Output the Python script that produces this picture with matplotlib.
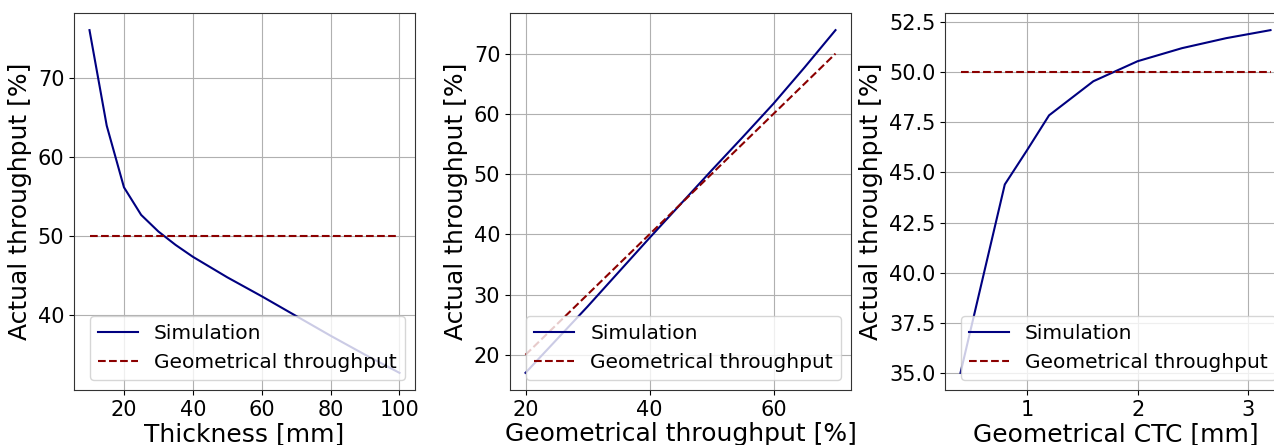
import matplotlib
matplotlib.use("Agg")
import matplotlib.pyplot as plt

# Panel 1: thickness scan
thickness_mm = [10, 15, 20, 25, 30, 35, 40, 50, 60, 70, 80, 90, 100]
thickness_sim = [76.1, 64.0, 56.2, 52.7, 50.6, 48.9, 47.4, 44.8, 42.4, 39.9, 37.4, 35.0, 32.7]
thickness_geo = [50.0] * len(thickness_mm)

# Panel 2: geometrical throughput scan
geo_tp = [20, 25, 30, 35, 40, 45, 50, 55, 60, 65, 70]
geo_tp_sim = [17.0, 22.5, 28.0, 33.7, 39.4, 45.0, 50.6, 56.1, 61.7, 67.7, 73.9]
geo_tp_geo = [20, 25, 30, 35, 40, 45, 50, 55, 60, 65, 70]

# Panel 3: CTC scan
ctc_mm = [0.4, 0.8, 1.0, 1.2, 1.6, 2.0, 2.4, 2.8, 3.2]
ctc_sim = [35.0, 44.4, 46.1, 47.85, 49.55, 50.55, 51.2, 51.7, 52.1]
ctc_geo = [50.0] * len(ctc_mm)

xlabels = ["Thickness [mm]", "Geometrical throughput [%]", "Geometrical CTC [mm]"]
ylabel = "Actual throughput [%]"
legend_labels = ["Simulation", "Geometrical throughput"]

W, H = 1274, 445
fig = plt.figure(figsize=(W / 100, H / 100), dpi=100)

lefts = [74, 510, 945]
width_px = 341
top_px, bot_px = 13, 390

panels = [
    (thickness_mm, thickness_sim, thickness_geo),
    (geo_tp, geo_tp_sim, geo_tp_geo),
    (ctc_mm, ctc_sim, ctc_geo),
]

for i, (x, ysim, ygeo) in enumerate(panels):
    ax = fig.add_axes([lefts[i] / W, (H - bot_px) / H, width_px / W, (bot_px - top_px) / H])
    ax.plot(x, ysim, color="navy", lw=1.5, label=legend_labels[0])
    ax.plot(x, ygeo, color="darkred", lw=1.5, ls="--", label=legend_labels[1])
    ax.grid(True)
    for sp in ax.spines.values():
        sp.set_color("#333333")
    ax.set_xlabel(xlabels[i], fontsize=18, labelpad=2)
    ax.set_ylabel(ylabel, fontsize=18)
    ax.tick_params(labelsize=15)
    ax.legend(loc="lower right", fontsize=14.5)

fig.savefig("out.png", dpi=100)
